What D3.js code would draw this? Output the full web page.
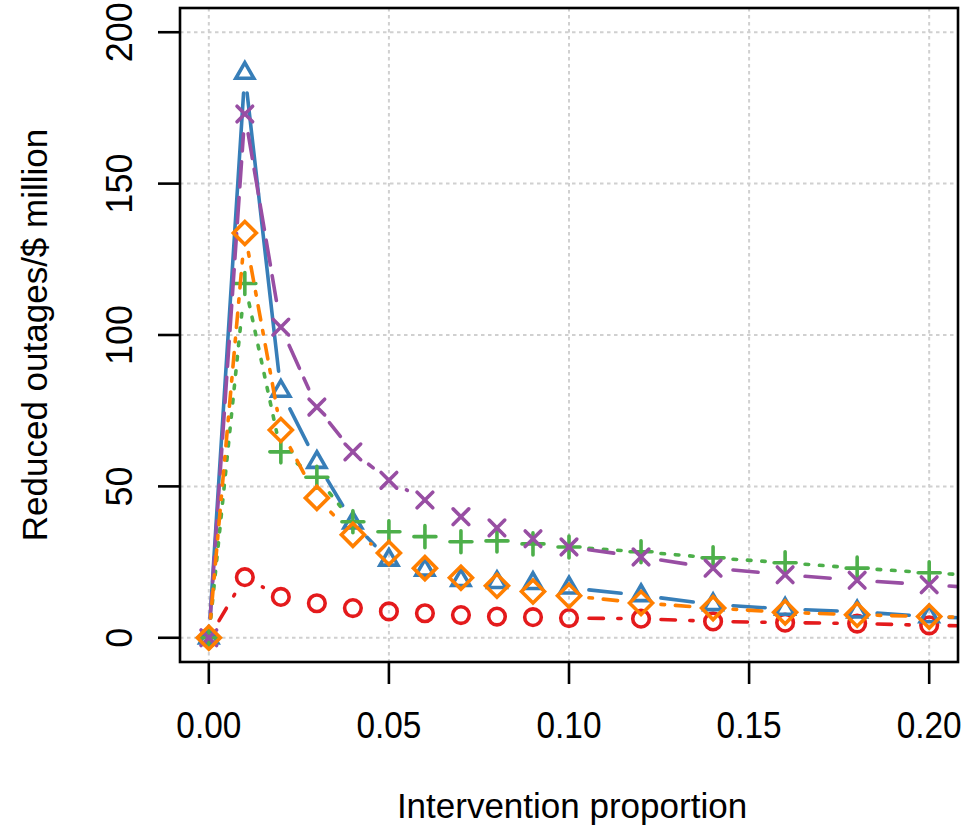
<!DOCTYPE html>
<html><head><meta charset="utf-8">
<script src="https://cdn.jsdelivr.net/npm/d3@7"></script>
<style>body{margin:0;background:#fff}</style>
</head><body>
<svg id="chart" width="973" height="828"></svg>
<script>
// ---- data ----
const xValues = [0, 0.01, 0.02, 0.03, 0.04, 0.05, 0.06, 0.07, 0.08, 0.09, 0.10, 0.12, 0.14, 0.16, 0.18, 0.20, 0.22];
const redCircle    = [0, 20, 13.5, 11.4, 9.8, 8.7, 8.1, 7.5, 7.0, 6.8, 6.5, 6.3, 5.4, 5.0, 4.7, 4.1, 3.8];
const blueTriangle = [0, 186.5, 81.5, 58, 38, 25.7, 22.4, 19, 18.3, 18, 16.5, 14, 11, 9.5, 8.6, 7, 6];
const greenPlus    = [0, 117, 61.4, 53, 38.3, 35, 33.4, 31.7, 32, 31, 30, 28.4, 26.4, 24.8, 23, 21.5, 20];
const purpleCross  = [0, 173, 102.6, 76.2, 61.4, 52, 45.5, 40, 36.3, 32.7, 30, 26.7, 23, 20.8, 19, 17.5, 16];
const orangeDiamond= [0, 133.7, 68.6, 46.2, 34, 28, 23, 19.8, 17.2, 15.3, 13.9, 11.5, 9.8, 8.4, 7.6, 7, 6.5];
const xTicks = [0, 0.05, 0.10, 0.15, 0.20];
const xTickLabels = ["0.00", "0.05", "0.10", "0.15", "0.20"];
const yTicks = [0, 50, 100, 150, 200];
const yTickLabels = ["0", "50", "100", "150", "200"];
const xTitle = "Intervention proportion";
const yTitle = "Reduced outages/$ million";

// ---- layout ----
const L = 180, R = 958, T = 8, B = 662;
const lwd = 3.6;
const x = d3.scaleLinear().domain([-0.008, 0.208]).range([L, R]);
const y = d3.scaleLinear().domain([-8, 208]).range([B, T]);
const font = "'Liberation Sans', Arial, Helvetica, sans-serif";

const svg = d3.select("#chart");
svg.append("defs").append("clipPath").attr("id", "plotclip")
  .append("rect").attr("x", L).attr("y", T).attr("width", R - L).attr("height", B - T);

// grid
const grid = svg.append("g").attr("stroke", "#d0d0d0").attr("stroke-width", 2)
  .attr("stroke-dasharray", "3.5,3.5");
grid.selectAll(".vg").data(xTicks).enter().append("line")
  .attr("x1", d => x(d)).attr("x2", d => x(d)).attr("y1", T).attr("y2", B);
grid.selectAll(".hg").data(yTicks).enter().append("line")
  .attr("y1", d => y(d)).attr("y2", d => y(d)).attr("x1", L).attr("x2", R);

// series
const series = [
  {vals: redCircle,    color: "#E41A1C", dash: [4, 4],        shape: "circle"},
  {vals: blueTriangle, color: "#377EB8", dash: null,          shape: "triangle"},
  {vals: greenPlus,    color: "#4DAF4A", dash: [1, 3],        shape: "plus"},
  {vals: purpleCross,  color: "#984EA3", dash: [7, 3],        shape: "cross"},
  {vals: orangeDiamond,color: "#FF7F00", dash: [1, 3, 4, 3],  shape: "diamond"}
];

function markerPath(shape) {
  switch (shape) {
    case "circle": { const r = 8.3; return `M${r},0A${r},${r} 0 1,1 ${-r},0A${r},${r} 0 1,1 ${r},0Z`; }
    case "triangle": { const s = 18, r = s / Math.sqrt(3); return `M0,${-r}L${s/2},${r/2}L${-s/2},${r/2}Z`; }
    case "plus": { const a = 11; return `M${-a},0L${a},0M0,${-a}L0,${a}`; }
    case "cross": { const a = 7.8; return `M${-a},${-a}L${a},${a}M${-a},${a}L${a},${-a}`; }
    case "diamond": { const a = 11.5; return `M0,${-a}L${a},0L0,${a}L${-a},0Z`; }
  }
}

const plot = svg.append("g").attr("clip-path", "url(#plotclip)");
const gap = 20;
series.forEach(s => {
  const g = plot.append("g");
  const pts = xValues.map((xv, i) => [x(xv), y(s.vals[i])]);
  const segs = [];
  for (let i = 0; i < pts.length - 1; i++) {
    const [x0, y0] = pts[i], [x1, y1] = pts[i + 1];
    const dx = x1 - x0, dy = y1 - y0, len = Math.hypot(dx, dy);
    if (len <= 2 * gap) continue;
    const ux = dx / len, uy = dy / len;
    segs.push([x0 + ux * gap, y0 + uy * gap, x1 - ux * gap, y1 - uy * gap]);
  }
  g.selectAll("line").data(segs).enter().append("line")
    .attr("x1", d => d[0]).attr("y1", d => d[1]).attr("x2", d => d[2]).attr("y2", d => d[3])
    .attr("stroke", s.color).attr("stroke-width", lwd).attr("stroke-linecap", "round")
    .attr("stroke-dasharray", s.dash ? s.dash.map(v => v * lwd).join(",") : null);
  g.selectAll("path").data(pts).enter().append("path")
    .attr("d", markerPath(s.shape))
    .attr("transform", d => `translate(${d[0]},${d[1]})`)
    .attr("fill", "none").attr("stroke", s.color).attr("stroke-width", 3.6)
    .attr("stroke-linecap", "round").attr("stroke-linejoin", "miter");
});

// box
svg.append("rect").attr("x", L).attr("y", T).attr("width", R - L).attr("height", B - T)
  .attr("fill", "none").attr("stroke", "#000").attr("stroke-width", 2.6);

// x axis
const xa = svg.append("g");
xa.selectAll("line").data(xTicks).enter().append("line")
  .attr("x1", d => x(d)).attr("x2", d => x(d)).attr("y1", B).attr("y2", B + 22)
  .attr("stroke", "#000").attr("stroke-width", 2.6);
xa.selectAll("text").data(xTicks).enter().append("text")
  .attr("x", d => x(d)).attr("y", 738).attr("text-anchor", "middle")
  .attr("font-family", font).attr("font-size", 36)
  .attr("textLength", 65).attr("lengthAdjust", "spacingAndGlyphs")
  .text((d, i) => xTickLabels[i]);

// y axis
const ya = svg.append("g");
ya.selectAll("line").data(yTicks).enter().append("line")
  .attr("y1", d => y(d)).attr("y2", d => y(d)).attr("x1", L).attr("x2", L - 22)
  .attr("stroke", "#000").attr("stroke-width", 2.6);
ya.selectAll("text").data(yTicks).enter().append("text")
  .attr("transform", d => `translate(132,${y(d)}) rotate(-90)`)
  .attr("text-anchor", "middle")
  .attr("font-family", font).attr("font-size", 36)
  .text((d, i) => yTickLabels[i]);

// titles
svg.append("text").attr("x", 572).attr("y", 818).attr("text-anchor", "middle")
  .attr("font-family", font).attr("font-size", 35).text(xTitle);
svg.append("text").attr("transform", `translate(47,${(T + B) / 2}) rotate(-90)`)
  .attr("text-anchor", "middle")
  .attr("font-family", font).attr("font-size", 35).text(yTitle);
</script>
</body></html>
